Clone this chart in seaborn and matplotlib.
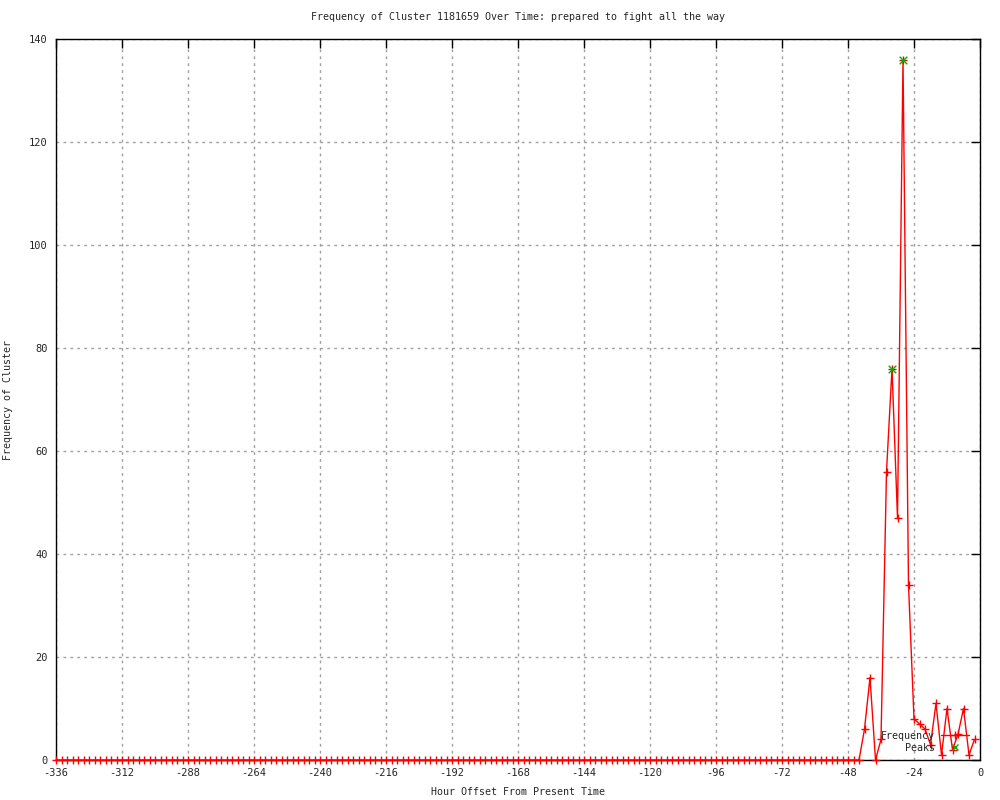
import numpy as np
import pandas as pd
import matplotlib
matplotlib.use("Agg")
import matplotlib.pyplot as plt
import seaborn as sns
from matplotlib.lines import Line2D

# hourly offsets, one sample every 2 hours
hours = list(range(-336, 0, 2))
# all zero up to -44, then the burst near the present
freq_zero_part = [0] * 147
freq_recent = [6, 16, 0, 4, 56, 76, 47, 136, 34, 8, 7, 6, 3, 11, 1, 10, 2, 5, 10, 1, 4]
frequency = freq_zero_part + freq_recent

peak_hours = [-32, -28]
peak_values = [76, 136]

x_ticks = list(range(-336, 1, 24))
y_ticks = list(range(0, 141, 20))

df = pd.DataFrame({"hour": hours, "freq": frequency})
peaks = pd.DataFrame({"hour": peak_hours, "freq": peak_values})

sns.set_style("white")
plt.rcParams["font.family"] = ["DejaVu Sans Mono", "DejaVu Sans"]
plt.rcParams["font.size"] = 7.2
plt.rcParams["axes.unicode_minus"] = False

fig = plt.figure(figsize=(10, 8), dpi=100)
ax = fig.add_axes([0.056, 0.05, 0.924, 0.90125])

sns.lineplot(data=df, x="hour", y="freq", ax=ax, color="red", lw=1,
             marker="+", markersize=6, markeredgewidth=1,
             markeredgecolor="red", clip_on=False, zorder=4)
sns.scatterplot(data=peaks, x="hour", y="freq", ax=ax, marker="x",
                color="#00b000", s=30, linewidth=1, zorder=5)

ax.set_xlim(-336, 0)
ax.set_ylim(0, 140)
ax.set_xticks(x_ticks)
ax.set_yticks(y_ticks)
ax.tick_params(direction="in", length=6.5, width=1, color="black",
               top=True, right=True, labelsize=7.5, pad=6)
ax.grid(True, color="#a0a0a0", linestyle=(0, (2, 3)), linewidth=1)
for s in ax.spines.values():
    s.set_color("black")
    s.set_linewidth(1)

ax.set_title("Frequency of Cluster 1181659 Over Time: prepared to fight all the way",
             fontsize=7.2, pad=14)
ax.set_xlabel("Hour Offset From Present Time", fontsize=7.2, labelpad=6)
ax.set_ylabel("Frequency of Cluster", fontsize=7.2)
ax.yaxis.set_label_coords(-0.047, 0.5)

handles = [
    Line2D([], [], color="red", lw=1, marker="+", markersize=6, markeredgewidth=1),
    Line2D([], [], color="#00b000", lw=0, marker="x", markersize=5, markeredgewidth=1),
]
ax.legend(handles, ["Frequency", "Peaks"], loc="lower right",
          bbox_to_anchor=(0.988, 0.01), frameon=False, markerfirst=False,
          handlelength=2.8, handletextpad=0.6, labelspacing=0.2,
          borderpad=0, borderaxespad=0, fontsize=7.2)

fig.savefig("out.png", dpi=100)
